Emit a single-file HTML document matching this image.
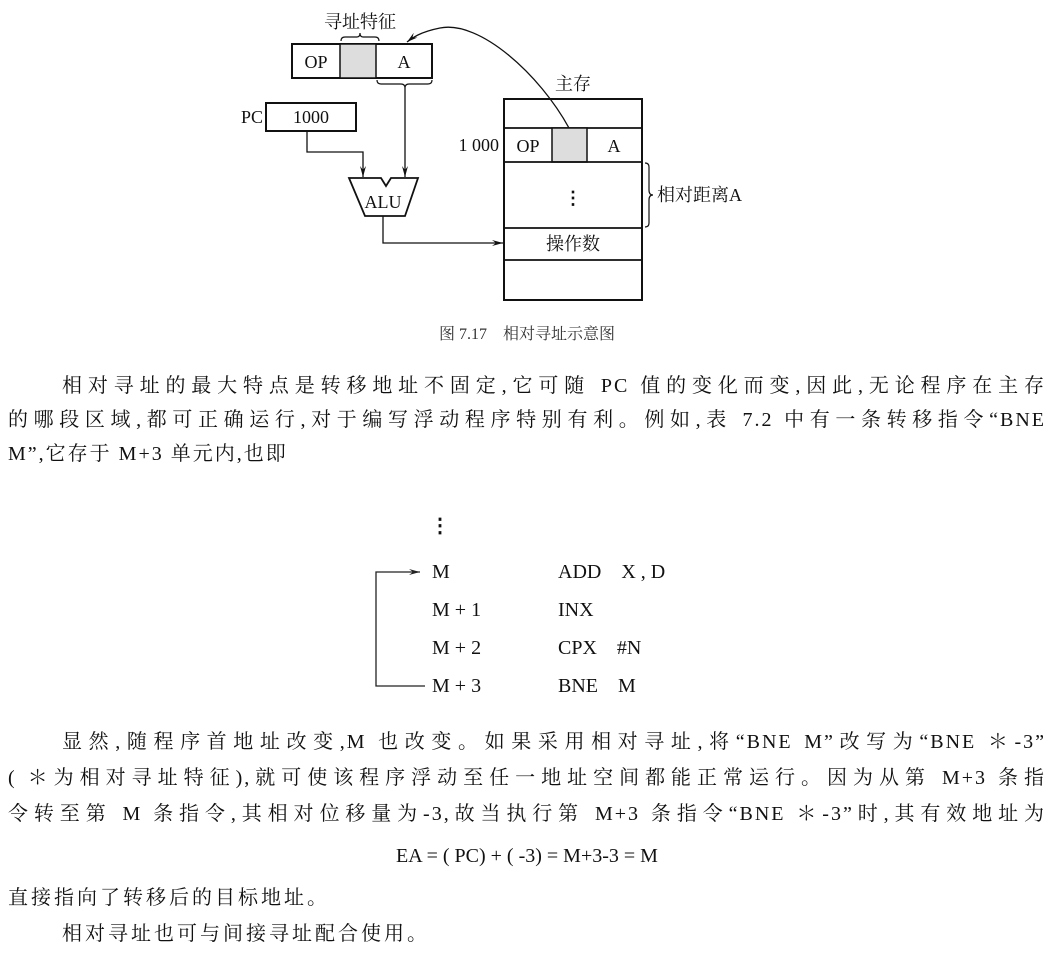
<!DOCTYPE html>
<html><head><meta charset="utf-8"><style>
body{margin:0;width:1054px;height:974px;background:#fff;position:relative;overflow:hidden;font-family:"Liberation Serif","Noto Serif CJK SC",serif;color:#111}
.l{position:absolute;font-size:20px;line-height:26px;letter-spacing:2px;white-space:nowrap;text-align:justify;text-align-last:justify}
.t{position:absolute;font-size:20px;line-height:22px;white-space:nowrap}
</style></head><body>
<svg width="1054" height="345" style="position:absolute;left:0;top:0" font-family="Liberation Serif, Noto Serif CJK SC, serif" fill="none" stroke="#111">
<defs><marker id="a" markerWidth="12" markerHeight="8" refX="11" refY="4" orient="auto" markerUnits="userSpaceOnUse"><path d="M0,1 L11,4 L0,7 L4,4z" fill="#111" stroke="none"/></marker></defs>
<rect x="292" y="44" width="140" height="34" stroke-width="2"/>
<rect x="340" y="44" width="36" height="34" fill="#ddd" stroke-width="1.5"/>
<path d="M341,41 q0,-4 4,-4 h12 q3,0 3,-4 q0,4 3,4 h12 q4,0 4,4" stroke-width="1.2"/>
<path d="M377,80 q0,4 4,4 h20 q4,0 4,4 q0,-4 4,-4 h19 q4,0 4,-4" stroke-width="1.2"/>
<line x1="405" y1="88" x2="405" y2="177" stroke-width="1.3" marker-end="url(#a)"/>
<rect x="266" y="103" width="90" height="28" stroke-width="2"/>
<polyline points="307,131 307,152 363,152 363,177" stroke-width="1.3" marker-end="url(#a)"/>
<path d="M349,178 H381 L386,186 L391,178 H418 L405,216 H365 Z" stroke-width="1.8"/>
<polyline points="383,216 383,243 503,243" stroke-width="1.3" marker-end="url(#a)"/>
<rect x="504" y="99" width="138" height="201" stroke-width="2"/>
<line x1="504" y1="128" x2="642" y2="128" stroke-width="1.8"/>
<rect x="552" y="128" width="35" height="34" fill="#ddd" stroke-width="1.5"/>
<line x1="504" y1="162" x2="642" y2="162" stroke-width="1.8"/>
<line x1="504" y1="228" x2="642" y2="228" stroke-width="1.8"/>
<line x1="504" y1="260" x2="642" y2="260" stroke-width="1.8"/>
<path d="M645,163 q4,0 4,4 v23 q0,5 4,5 q-4,0 -4,5 v23 q0,4 -4,4" stroke-width="1.2"/>
<path d="M569,128 C540,75 480,20 440,28 C420,32 412,38 407,42" stroke-width="1.3" marker-end="url(#a)"/>
<g fill="#111" stroke="none" font-size="18">
<text x="360" y="28" text-anchor="middle">寻址特征</text>
<text x="316" y="68" text-anchor="middle">OP</text>
<text x="404" y="68" text-anchor="middle">A</text>
<text x="252" y="123" text-anchor="middle">PC</text>
<text x="311" y="123" text-anchor="middle">1000</text>
<text x="383" y="208" text-anchor="middle">ALU</text>
<text x="573" y="90" text-anchor="middle">主存</text>
<text x="499" y="151" text-anchor="end">1 000</text>
<text x="528" y="152" text-anchor="middle">OP</text>
<text x="614" y="152" text-anchor="middle">A</text>
<text x="573" y="204" text-anchor="middle" font-weight="bold">⋮</text>
<text x="657" y="201">相对距离A</text>
<text x="573" y="250" text-anchor="middle">操作数</text>
<text x="527" y="339" text-anchor="middle" font-size="16" fill="#333">图 7.17　相对寻址示意图</text>
</g>
</svg>
<div class="l" style="left:62px;top:373px;width:984px">相对寻址的最大特点是转移地址不固定,它可随 PC 值的变化而变,因此,无论程序在主存</div>
<div class="l" style="left:8px;top:407px;width:1038px">的哪段区域,都可正确运行,对于编写浮动程序特别有利。例如,表 7.2 中有一条转移指令“BNE</div>
<div class="l" style="left:8px;top:441px;text-align-last:left">M”,它存于 M+3 单元内,也即</div>
<svg width="1054" height="200" style="position:absolute;left:0;top:510px" fill="none" stroke="#222">
<defs><marker id="b" markerWidth="12" markerHeight="8" refX="11" refY="4" orient="auto" markerUnits="userSpaceOnUse"><path d="M0,1 L11,4 L0,7 L4,4z" fill="#222" stroke="none"/></marker></defs>
<polyline points="425,176 376,176 376,62 420,62" stroke-width="1.3" marker-end="url(#b)"/>
</svg>
<div class="t" style="left:430px;top:515px;font-weight:bold">⋮</div>
<div class="t" style="left:432px;top:561px">M</div><div class="t" style="left:558px;top:561px">ADD　X , D</div>
<div class="t" style="left:432px;top:599px">M + 1</div><div class="t" style="left:558px;top:599px">INX</div>
<div class="t" style="left:432px;top:637px">M + 2</div><div class="t" style="left:558px;top:637px">CPX　#N</div>
<div class="t" style="left:432px;top:675px">M + 3</div><div class="t" style="left:558px;top:675px">BNE　M</div>
<div class="l" style="left:62px;top:729px;width:984px">显然,随程序首地址改变,M 也改变。如果采用相对寻址,将“BNE M”改写为“BNE ＊-3”</div>
<div class="l" style="left:8px;top:765px;width:1038px">( ＊为相对寻址特征),就可使该程序浮动至任一地址空间都能正常运行。因为从第 M+3 条指</div>
<div class="l" style="left:8px;top:801px;width:1038px">令转至第 M 条指令,其相对位移量为-3,故当执行第 M+3 条指令“BNE ＊-3”时,其有效地址为</div>
<div class="l" style="left:0;top:843px;width:1054px;letter-spacing:0;text-align:center;text-align-last:center">EA = ( PC) + ( -3) = M+3-3 = M</div>
<div class="l" style="left:8px;top:885px;letter-spacing:3px;text-align-last:left">直接指向了转移后的目标地址。</div>
<div class="l" style="left:62px;top:921px;letter-spacing:3px;text-align-last:left">相对寻址也可与间接寻址配合使用。</div>
</body></html>
